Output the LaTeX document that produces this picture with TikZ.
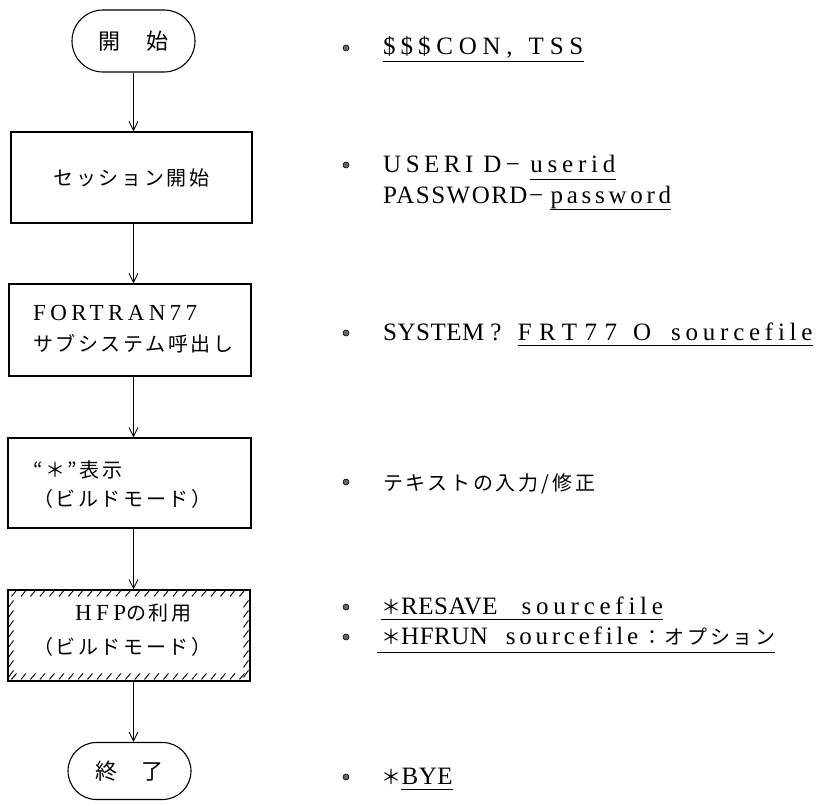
\documentclass[tikz,border=0pt]{standalone}
\usepackage{fontspec}
\setmainfont{Liberation Serif}
\newfontfamily\latB[LetterSpace=19]{Liberation Serif}
\newfontfamily\latC[LetterSpace=2]{Liberation Serif}
\newfontfamily\latD[LetterSpace=6]{Liberation Serif}
\newfontfamily\latE[LetterSpace=18]{Liberation Serif}
\newfontfamily\latL[LetterSpace=15]{Liberation Serif}
\newfontfamily\latM[LetterSpace=19]{Liberation Serif}
\newfontfamily\latW[LetterSpace=23]{Liberation Serif}
\newfontfamily\latX[LetterSpace=30]{Liberation Serif}
\newfontfamily\jp[LetterSpace=13]{Noto Sans CJK JP}
\newcommand\jps{\fontsize{20}{24}\jp}
\usetikzlibrary{arrows.meta,shapes.misc}
\begin{document}
\begin{tikzpicture}[x=1pt,y=-1pt,
  box/.style={draw, line width=1.1pt, inner sep=0pt},
  term/.style={draw, line width=1.1pt, rounded rectangle, minimum width=123pt, minimum height=62pt, inner sep=0pt, font=\fontsize{22}{26}\selectfont},
  arr/.style={line width=0.9pt, -{Straight Barb[length=9pt,width=9pt]}},
  bul/.style={circle, draw, fill=black!60, line width=0.6pt, inner sep=0pt, minimum size=6pt},
  txt/.style={anchor=base west, inner sep=0pt, font=\fontsize{25}{30}\selectfont},
  intxt/.style={inner sep=0pt},
  uline/.style={line width=0.9pt},
  hatch/.style={line width=0.9pt}
]
\useasboundingbox (0,0) rectangle (821,805);

% flow chart
\node[term] (start) at (133.5,41) {\jp 開\hspace{26pt}始};
\node[box, minimum width=241pt, minimum height=91pt, font=\fontsize{20}{24}\selectfont] (b2) at (131.5,177.5) {\jp セッション開始};
\node[box, minimum width=242pt, minimum height=92pt] (b3) at (130,330) {};
\node[intxt, anchor=west, align=left, font=\fontsize{20}{31}\selectfont] (t3) at (33,329.5) {{\fontsize{23}{31}\latB FORTRAN77}\\{\jp サブシステム呼出し}};
\node[box, minimum width=243pt, minimum height=90pt] (b4) at (129.5,483) {};
\node[intxt, anchor=west, align=left, font=\fontsize{20}{29}\selectfont] (t4) at (33,484.5) {{\jp “＊”表示}\\{\jp （ビルドモード）}};
\node[box, minimum width=242pt, minimum height=91pt] (b5) at (129,635.5) {};
\node[intxt, anchor=west, align=left, font=\fontsize{20}{34}\selectfont] (t5) at (33,630) {\hspace*{42pt}{\fontsize{23}{34}\latB HFP}{\jp の利用}\\{\jp （ビルドモード）}};
\node[term, minimum height=57pt] (end) at (129.5,771) {\jp 終\hspace{25pt}了};

\draw[arr] (start.south) -- (start.south |- b2.north);
\draw[arr] (b2.south -| start) -- (b3.north -| start);
\draw[arr] (b3.south -| start) -- (b4.north -| start);
\draw[arr] (b4.south -| start) -- (b5.north -| start);
\draw[arr] (b5.south -| start) -- (end.north -| start);

% hatching inside b5
\begin{scope}[shift={(b5.north west)}]
  \foreach \x in {4,13.5,...,236} \draw[hatch] (\x,7) -- (\x+5,1);
  \foreach \x in {4,13.5,...,236} \draw[hatch] (\x,90) -- (\x+5,84);
  \foreach \y in {14,24,...,86} \draw[hatch] (1,\y+4) -- (6,\y-3);
  \foreach \y in {14,24,...,86} \draw[hatch] (236,\y+4) -- (241,\y-3);
\end{scope}

% right column
\node[bul] (d1) at (346,48) {};
\node[txt] (l1) at (383,55) {\latW\$\hspace{5pt}\$\hspace{5pt}\$CON,\hspace{16pt}TSS};
\draw[uline] ([yshift=-6pt]l1.base west) -- ([yshift=-6pt]l1.base east);

\node[bul] (d2) at (346,165) {};
\node[txt] (l2a) at (383,172) {\latE USERI\hspace{10pt}D−};
\node[txt] (l2b) at ([xshift=10pt]l2a.base east) {\latM userid};
\draw[uline] ([yshift=-7pt]l2b.base west) -- ([yshift=-7pt]l2b.base east);

\node[txt] (l3a) at (383,203) {\latD PASSWORD−};
\node[txt] (l3b) at ([xshift=7pt]l3a.base east) {\latL password};
\draw[uline] ([yshift=-6pt]l3b.base west) -- ([yshift=-6pt]l3b.base east);

\node[bul] (d4) at (346,333) {};
\node[txt] (l4a) at (383,340) {\latC SYSTEM\hspace{6pt}?};
\node[txt] (l4b) at ([xshift=16pt]l4a.base east) {{\latX FRT77}\hspace{16pt}{\latL O}\hspace{20pt}{\latM sourcefile}};
\draw[uline] ([yshift=-5pt]l4b.base west) -- ([yshift=-5pt]l4b.base east);

\node[bul] (d5) at (346,482) {};
\node[txt] (l5) at (383,490) {\jps テキストの入力\,/\,修正};

\node[bul] (d6) at (346,607) {};
\node[txt] (l6) at (381,614) {{\jps ＊}{\latC RESAVE}\hspace{24pt}{\latM sourcefile}};
\draw[uline] ([yshift=-5pt]l6.base west) -- ([yshift=-5pt]l6.base east);

\node[bul] (d7) at (346,637) {};
\node[txt] (l7) at (381,644) {{\jps ＊}{\latC HFRUN}\hspace{18pt}{\latL sourcefile}\hspace{4pt}{\jps ：オプション}};
\draw[uline] ([yshift=-8pt,xshift=-4pt]l7.base west) -- ([yshift=-8pt]l7.base east);

\node[bul] (d8) at (346,777) {};
\node[txt] (l8a) at (381,784) {\jps ＊};
\node[txt] (l8b) at (l8a.base east) {\latC BYE};
\draw[uline] ([yshift=-5pt]l8b.base west) -- ([yshift=-5pt]l8b.base east);
\end{tikzpicture}
\end{document}
